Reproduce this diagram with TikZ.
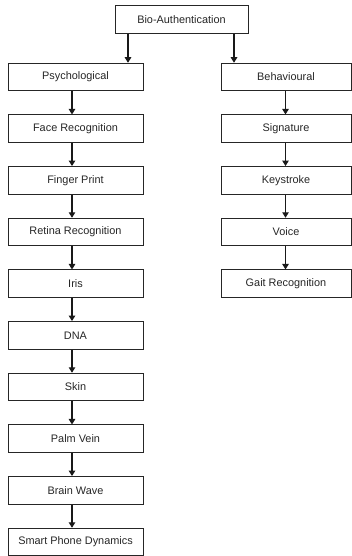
\documentclass[tikz,border=0pt]{standalone}
\usepackage{fontspec}
\setmainfont{Liberation Sans}
\usetikzlibrary{arrows.meta}
\begin{document}
\begin{tikzpicture}[x=1pt,y=-1pt,
  box/.style={draw=black!85,line width=1pt,minimum height=27.5pt,inner sep=0pt,
    font=\fontsize{10.9}{12}\selectfont,text=black!85},
  lbox/.style={box,minimum width=135pt},
  rbox/.style={box,minimum width=130pt},
  arr/.style={draw=black!90,line width=1.1pt,-{Triangle[width=6.5pt,length=5.5pt]}}]
\useasboundingbox (0,0) rectangle (352,556);
\node[box,minimum width=133pt,minimum height=28.5pt] (top) at (181.5,19.5) {Bio-Authentication};
\node[lbox] (l1) at (75.5,77) {Psychological};
\node[lbox] (l2) at (75.5,128.7) {Face Recognition};
\node[lbox] (l3) at (75.5,180.3) {Finger Print};
\node[lbox] (l4) at (75.5,232) {Retina Recognition};
\node[lbox] (l5) at (75.5,283.7) {Iris};
\node[lbox] (l6) at (75.5,335.3) {DNA};
\node[lbox] (l7) at (75.5,387) {Skin};
\node[lbox] (l8) at (75.5,438.7) {Palm Vein};
\node[lbox] (l9) at (75.5,490.3) {Brain Wave};
\node[lbox] (l10) at (75.5,542) {Smart Phone Dynamics};
\node[rbox] (r1) at (286,77) {Behavioural};
\node[rbox] (r2) at (286,128.7) {Signature};
\node[rbox] (r3) at (286,180.3) {Keystroke};
\node[rbox] (r4) at (286,232) {Voice};
\node[rbox] (r5) at (286,283.7) {Gait Recognition};
\draw[arr] ([xshift=-53.5pt]top.south) -- ([xshift=52.5pt]l1.north);
\draw[arr] ([xshift=52.5pt]top.south) -- ([xshift=-52pt]r1.north);
\foreach \a/\b in {l1/l2,l2/l3,l3/l4,l4/l5,l5/l6,l6/l7,l7/l8,l8/l9,l9/l10}
  \draw[arr] ([xshift=-3.5pt]\a.south) -- ([xshift=-3.5pt]\b.north);
\foreach \a/\b in {r1/r2,r2/r3,r3/r4,r4/r5}
  \draw[arr] ([xshift=-0.5pt]\a.south) -- ([xshift=-0.5pt]\b.north);
\end{tikzpicture}
\end{document}
